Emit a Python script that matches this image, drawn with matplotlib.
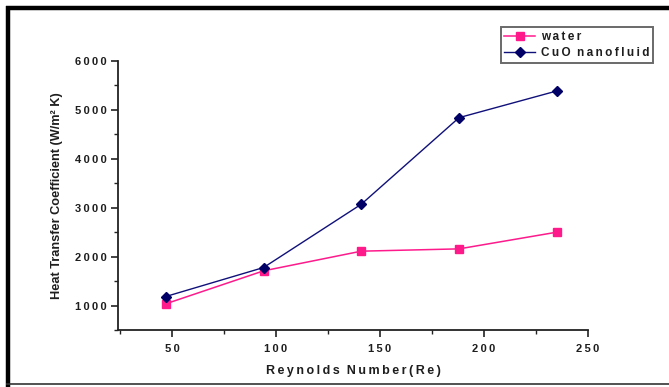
import matplotlib
matplotlib.use("Agg")
import matplotlib.pyplot as plt
from matplotlib.lines import Line2D
from matplotlib.ticker import FuncFormatter, MultipleLocator

# Reynolds number vs heat transfer coefficient
reynolds = [47, 94, 141, 188, 235]
h_water = [1035, 1708, 2110, 2157, 2498]
h_cuo = [1184, 1776, 3069, 4837, 5382]

x_ticks = [50, 100, 150, 200, 250]
y_ticks = [1000, 2000, 3000, 4000, 5000, 6000]

FONT = ["Liberation Sans", "DejaVu Sans"]
plt.rcParams["font.family"] = FONT
TXT = "#1e1e1e"


def spaced(s):
    # loose letter spacing like the original export
    return "\u2009".join(s)


fig = plt.figure(figsize=(6.69, 3.87), dpi=100)
ax = fig.add_axes([118 / 669, 57 / 387, 470 / 669, 269.3 / 387])

ax.plot(reynolds, h_water, color="#ff1a8c", lw=1.1, marker="s", ms=5.2,
        mec="#ff1a8c", mfc="#ff1a8c", label=spaced("water"))
ax.plot(reynolds, h_cuo, color="#10107a", lw=1.0, marker="D", ms=5.5,
        mec="#000066", mfc="#000066", label=spaced("CuO") + "  " + spaced("nanofluid"))

ax.set_xlim(24, 250)
ax.set_ylim(500, 6000)
ax.set_xticks(x_ticks)
ax.set_yticks(y_ticks)
ax.xaxis.set_minor_locator(MultipleLocator(25))
ax.yaxis.set_minor_locator(MultipleLocator(500))
fmt = FuncFormatter(lambda v, _: spaced(f"{v:.0f}"))
ax.xaxis.set_major_formatter(fmt)
ax.yaxis.set_major_formatter(fmt)

for s in ["top", "right"]:
    ax.spines[s].set_visible(False)
for s in ["left", "bottom"]:
    ax.spines[s].set_linewidth(1.3)
    ax.spines[s].set_color("#222222")

ax.tick_params(which="major", direction="out", length=5, width=1.2, color="#222222",
               labelsize=8, labelcolor=TXT, pad=3)
ax.tick_params(which="minor", direction="out", length=3, width=1.0, color="#222222")
for lab in ax.get_xticklabels() + ax.get_yticklabels():
    lab.set_fontweight("bold")
ax.tick_params(axis="x", pad=5)

ax.set_xlabel(spaced("Reynolds") + "  " + spaced("Number(Re)"), fontsize=9,
              fontweight="bold", color=TXT, labelpad=8)
ax.set_ylabel("Heat Transfer Coefficient (W/m² K)", fontsize=9.2,
              fontweight="bold", color=TXT, labelpad=9)

leg = ax.legend(loc="upper left", bbox_to_anchor=(500.7 / 669, 1 - 27.3 / 387),
                bbox_transform=fig.transFigure, frameon=True, fancybox=False,
                fontsize=8.5, handlelength=2.6, handletextpad=0.5,
                borderpad=0.3, labelspacing=0.35, borderaxespad=0)
leg.get_frame().set_edgecolor("#444444")
leg.get_frame().set_linewidth(1.4)
for t in leg.get_texts():
    t.set_fontweight("bold")
    t.set_color(TXT)

# page frame around the figure
fig.add_artist(Line2D([6 / 669, 1], [1 - 7.5 / 387] * 2, transform=fig.transFigure,
                      color="black", lw=3.2, solid_capstyle="butt"))
fig.add_artist(Line2D([8 / 669] * 2, [0, 1 - 6 / 387], transform=fig.transFigure,
                      color="black", lw=3.2, solid_capstyle="butt"))
fig.add_artist(Line2D([6 / 669, 1], [3 / 387] * 2, transform=fig.transFigure,
                      color="#333333", lw=1.2, solid_capstyle="butt"))

fig.savefig("out.png", dpi=100)
